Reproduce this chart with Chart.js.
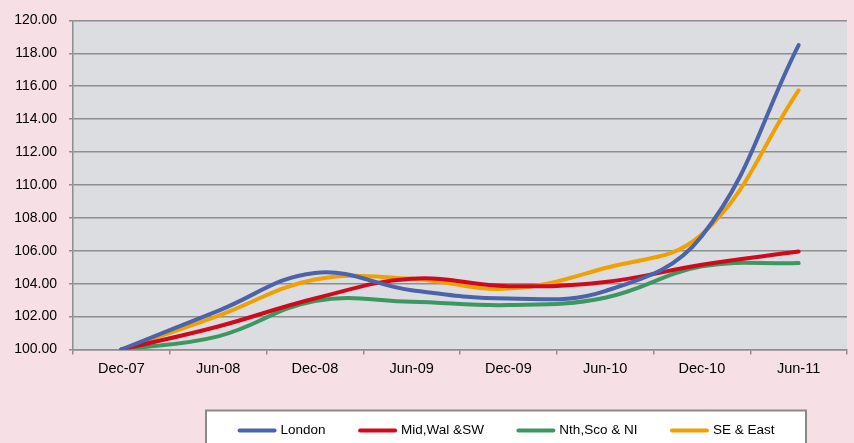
<!DOCTYPE html>
<html>
<head>
<meta charset="utf-8">
<script src="https://cdn.jsdelivr.net/npm/chart.js@4/dist/chart.umd.min.js"></script>
<style>
  html, body { margin: 0; padding: 0; background: #f6dfe5; }
  #wrap { width: 854px; height: 443px; position: relative; }
</style>
</head>
<body>
<div id="wrap"><canvas id="c" width="854" height="443"></canvas></div>
<script>
// Regional house price index, Dec-07 = 100
const periods = ['Dec-07', 'Jun-08', 'Dec-08', 'Jun-09', 'Dec-09', 'Jun-10', 'Dec-10', 'Jun-11'];
const london   = [100.00, 102.35, 104.65, 103.60, 103.10, 103.55, 106.90, 118.50];
const midWalSW = [100.00, 101.40, 103.10, 104.30, 103.85, 104.10, 105.15, 105.95];
const nthScoNI = [100.00, 100.80, 102.95, 102.90, 102.70, 103.15, 105.05, 105.25];
const seEast   = [100.00, 102.05, 104.25, 104.30, 103.70, 104.95, 107.00, 115.75];

const seriesNames  = ['London', 'Mid,Wal &SW', 'Nth,Sco & NI', 'SE & East'];
const seriesColors = ['#4a63aa', '#d0091c', '#3a9860', '#f0a000'];
const seriesData   = [london, midWalSW, nthScoNI, seEast];

const FONT = "'Liberation Sans', Arial, sans-serif";
const GRID = '#8e8e8e';

// grey plot area behind the lines
const plotBackground = {
  id: 'plotBackground',
  beforeDraw(chart) {
    const { ctx, chartArea: a } = chart;
    ctx.save();
    ctx.fillStyle = '#dcdde0';
    ctx.fillRect(a.left, a.top, a.right - a.left, a.bottom - a.top);
    ctx.restore();
  }
};

// boxed legend under the axis
const boxedLegend = {
  id: 'boxedLegend',
  afterDraw(chart) {
    const { ctx } = chart;
    const box = { x: 206, y: 410.5, w: 600, h: 40 };
    ctx.save();
    ctx.fillStyle = '#ffffff';
    ctx.fillRect(box.x, box.y, box.w, box.h);
    ctx.strokeStyle = '#8a8a8a';
    ctx.lineWidth = 2;
    ctx.strokeRect(box.x, box.y, box.w, box.h);

    ctx.font = '13.5px ' + FONT;
    ctx.textBaseline = 'middle';
    const lineLen = 39, gapText = 4, gapItem = 32.5;
    const items = chart.data.datasets.map(ds => ({
      label: ds.label, color: ds.borderColor,
      w: lineLen + gapText + ctx.measureText(ds.label).width
    }));
    const total = items.reduce((s, it) => s + it.w, 0) + gapItem * (items.length - 1);
    let x = box.x + (box.w - total) / 2;
    const y = 430.5;
    items.forEach(it => {
      ctx.strokeStyle = it.color;
      ctx.lineWidth = 4;
      ctx.lineCap = 'round';
      ctx.beginPath();
      ctx.moveTo(x + 2, y);
      ctx.lineTo(x + lineLen - 2, y);
      ctx.stroke();
      ctx.fillStyle = '#000000';
      ctx.fillText(it.label, x + lineLen + gapText, y);
      x += it.w + gapItem;
    });
    ctx.restore();
  }
};

new Chart(document.getElementById('c'), {
  type: 'line',
  data: {
    labels: periods,
    datasets: seriesNames.map((name, i) => ({
      label: name,
      data: seriesData[i],
      borderColor: seriesColors[i],
      backgroundColor: seriesColors[i],
      borderWidth: 4,
      borderCapStyle: 'round',
      borderJoinStyle: 'round',
      pointRadius: 0,
      tension: 0.4,
      fill: false
    }))
  },
  options: {
    responsive: false,
    animation: false,
    devicePixelRatio: 1,
    layout: { padding: { top: 16, right: 7, bottom: 63.5, left: 0 } },
    plugins: {
      legend: { display: false },
      tooltip: { enabled: false }
    },
    scales: {
      x: {
        offset: true,
        grid: {
          offset: true,
          drawOnChartArea: false,
          drawTicks: true,
          tickLength: 5,
          color: GRID,
          lineWidth: 1.5
        },
        border: { display: true, color: GRID, width: 1.5 },
        ticks: {
          color: '#000000',
          font: { family: FONT, size: 14.5 },
          padding: 6,
          maxRotation: 0,
          autoSkip: false
        },
        afterFit(scale) { scale.height = 30; }
      },
      y: {
        min: 100,
        max: 120,
        grid: {
          color: GRID,
          lineWidth: 1.5,
          drawTicks: true,
          tickLength: 4
        },
        border: { display: true, color: GRID, width: 1.5 },
        ticks: {
          stepSize: 2,
          color: '#000000',
          font: { family: FONT, size: 14 },
          padding: 12,
          callback: v => Number(v).toFixed(2)
        },
        afterFit(scale) { scale.width = 73; }
      }
    }
  },
  plugins: [plotBackground, boxedLegend]
});
</script>
</body>
</html>
